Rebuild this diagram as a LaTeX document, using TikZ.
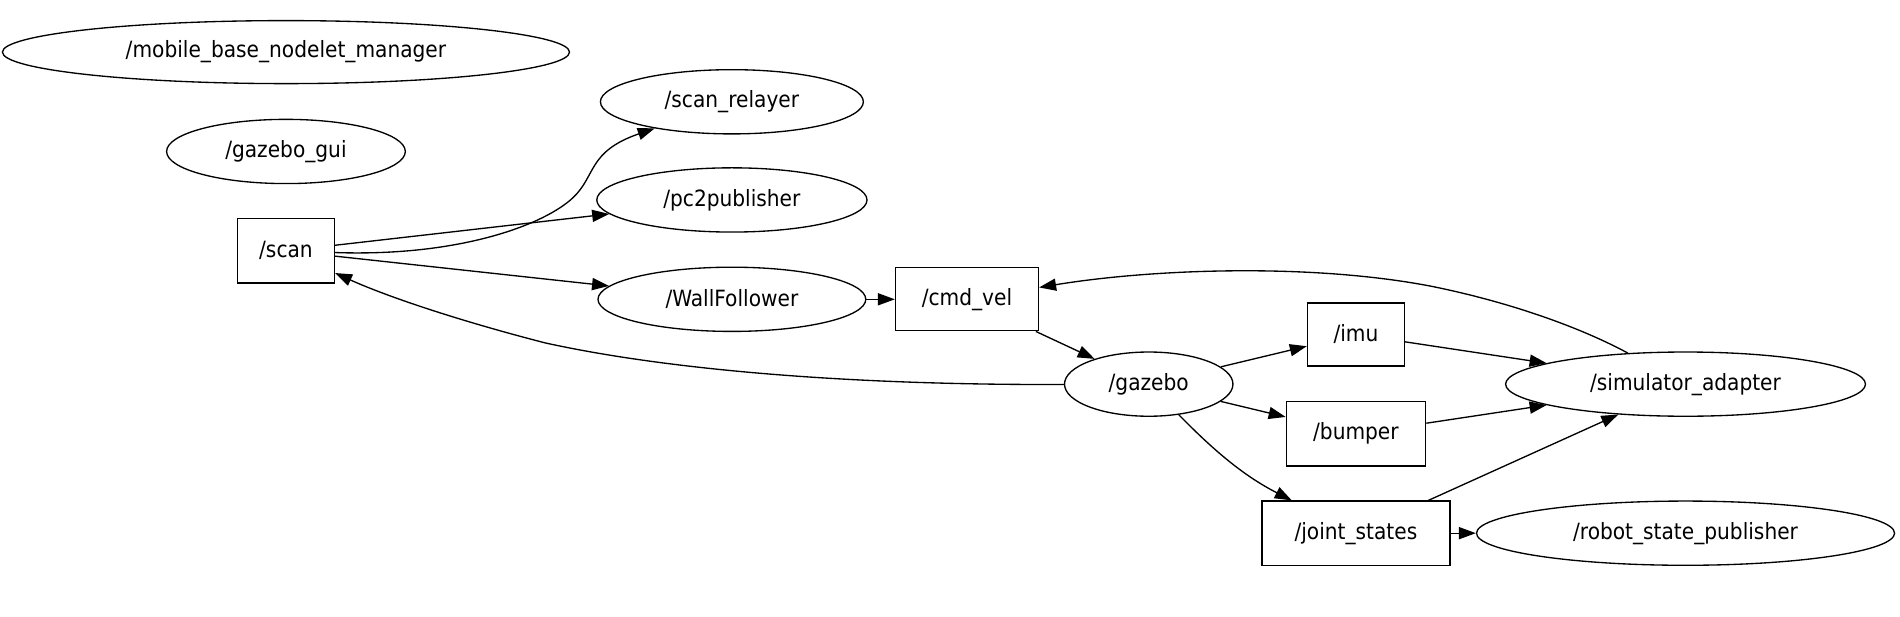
\documentclass[tikz,border=0pt]{standalone}
\usepackage{fontspec}
\setmainfont{DejaVu Sans Condensed}
\usetikzlibrary{shapes.geometric, positioning, arrows.meta}
\tikzset{
  rosnode/.style={ellipse, draw=black, line width=1.1pt, inner sep=0pt, font=\fontsize{18.5}{22}\selectfont},
  rostopic/.style={rectangle, draw=black, line width=1.1pt, inner sep=0pt, minimum height=53pt, font=\fontsize{18.5}{22}\selectfont},
  arrow/.style={line width=1.1pt, -{Triangle[length=14pt, width=10pt]}}
}

\begin{document}
\begin{tikzpicture}[x=1pt, y=-1pt]
    \useasboundingbox (0,0) rectangle (1568,509);

    % nodes
    \node[rosnode, minimum width=468pt, minimum height=52pt] (manager) at (236,43) {/mobile\_base\_nodelet\_manager};
    \node[rosnode, minimum width=197pt, minimum height=53pt] (gui) at (236,125) {/gazebo\_gui};
    \node[rostopic, minimum width=80pt] (scan) at (236,207) {/scan};
    \node[rosnode, minimum width=217pt, minimum height=53pt] (relayer) at (604,84) {/scan\_relayer};
    \node[rosnode, minimum width=223pt, minimum height=53pt] (pc2) at (604,165) {/pc2publisher};
    \node[rosnode, minimum width=221pt, minimum height=53pt] (wall) at (604,247) {/WallFollower};
    \node[rostopic, minimum width=118pt, minimum height=52pt] (cmdvel) at (798,247) {/cmd\_vel};
    \node[rosnode, minimum width=139pt, minimum height=53pt] (gazebo) at (948,317) {/gazebo};
    \node[rostopic, minimum width=80pt, minimum height=52pt] (imu) at (1119,276) {/imu};
    \node[rostopic, minimum width=115pt] (bumper) at (1119,358) {/bumper};
    \node[rostopic, minimum width=155pt] (joint) at (1119,440) {/joint\_states};
    \node[rosnode, minimum width=297pt, minimum height=53pt] (sim) at (1391,317) {/simulator\_adapter};
    \node[rosnode, minimum width=345pt, minimum height=53pt] (rsp) at (1391,440) {/robot\_state\_publisher};

    % edges
    \draw[arrow] (scan) .. controls (380,212) and (450,185) .. (473,163)
                 .. controls (492,145) and (485,125) .. (relayer);
    \draw[arrow] (scan) -- (pc2);
    \draw[arrow] (scan) -- (wall);
    \draw[arrow] (wall) -- (cmdvel);
    \draw[arrow] (cmdvel) -- (gazebo);
    \draw[arrow] (gazebo) .. controls (700,318) and (550,305) .. (450,283)
                 .. controls (380,265) and (320,245) .. (scan);
    \draw[arrow] (gazebo) -- (imu);
    \draw[arrow] (gazebo) -- (bumper);
    \draw[arrow] (gazebo) .. controls (1000,370) and (1025,392) .. (joint);
    \draw[arrow] (imu) -- (sim);
    \draw[arrow] (bumper) -- (sim);
    \draw[arrow] (joint) -- (sim);
    \draw[arrow] (joint) -- (rsp);
    \draw[arrow] (sim) .. controls (1300,268) and (1240,248) .. (1180,236)
                 .. controls (1080,217) and (950,222) .. (cmdvel);

\end{tikzpicture}
\end{document}
